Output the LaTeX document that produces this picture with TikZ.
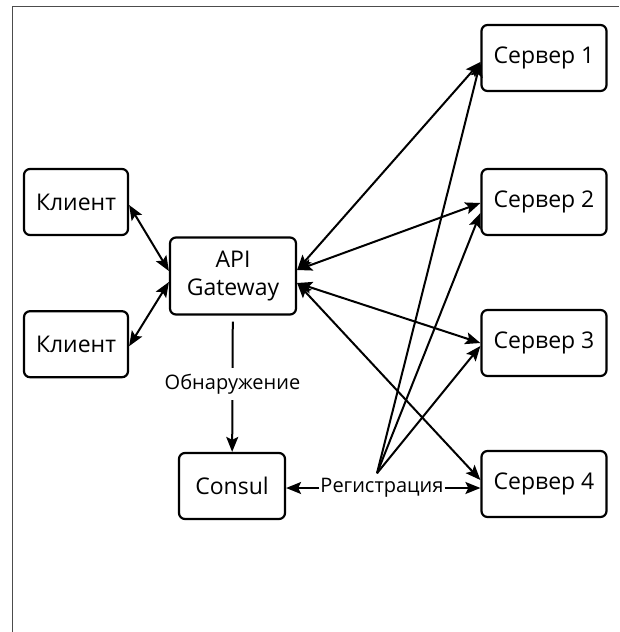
\documentclass[tikz,border=0pt]{standalone}
\usepackage{fontspec}
\setmainfont{Open Sans}
\usetikzlibrary{arrows.meta, positioning}

\begin{document}
\begin{tikzpicture}[
    x=1pt, y=-1pt,
    box/.style={rectangle, rounded corners=6pt, draw, line width=2.2pt, minimum width=125pt, minimum height=66pt, align=center, font=\fontsize{23}{28}\selectfont},
    link/.style={{Stealth[length=15pt,width=12pt,inset=3pt]}-{Stealth[length=15pt,width=12pt,inset=3pt]}, line width=2pt},
    flow/.style={-{Stealth[length=15pt,width=12pt,inset=3pt]}, line width=2pt},
    tag/.style={font=\fontsize{20}{24}\selectfont, fill=white, inner sep=1pt},
]
    \useasboundingbox (0,0) rectangle (619,632);

    % Frame
    \draw[black!70, line width=1pt] (12,632) -- (12,6) -- (619,6);

    % Clients and gateway
    \node[box, minimum width=104pt] (client1) at (76,202) {Клиент};
    \node[box, minimum width=104pt, below=74pt of client1] (client2) {Клиент};
    \node[box, minimum width=126pt, minimum height=77pt] (api) at (233,276) {API\\Gateway};
    \node[box, minimum width=106pt] (consul) at (232,486) {Consul};

    % Servers
    \foreach \n/\y in {1/58, 2/202, 3/343, 4/484}
        \node[box] (srv\n) at (544,\y) {Сервер \n};

    % Arrows
    \draw[link] ([yshift=-3pt]client1.east) -- ([yshift=5pt]api.west);
    \draw[link] ([yshift=-2pt]client2.east) -- ([yshift=-6pt]api.west);

    \draw[link] ([yshift=6pt]api.east) -- ([yshift=-4pt]srv1.west);
    \draw[link] ([yshift=6pt]api.east) -- ([yshift=-1pt]srv2.west);
    \draw[link] ([yshift=-7pt]api.east) -- (srv3.west);
    \draw[link] ([yshift=-7pt]api.east) -- ([yshift=4pt]srv4.west);

    \draw[flow, shorten <=6pt] (api) -- node[tag, inner ysep=6pt]{Обнаружение} (consul);

    % Registration
    \node[tag] (reg) at (382,488) {Регистрация};
    \draw[flow] (reg.west) -- (reg.west -| consul.east);
    \draw[flow] (reg.east) -- (reg.east -| srv4.west);
    \coordinate (hub) at ([xshift=-5pt,yshift=4pt]reg.north);
    \draw[flow] (hub) -- ([yshift=-4pt]srv1.west);
    \draw[flow] (hub) -- ([yshift=-11pt]srv2.west);
    \draw[flow] (hub) -- ([yshift=-3pt]srv3.west);

\end{tikzpicture}
\end{document}
